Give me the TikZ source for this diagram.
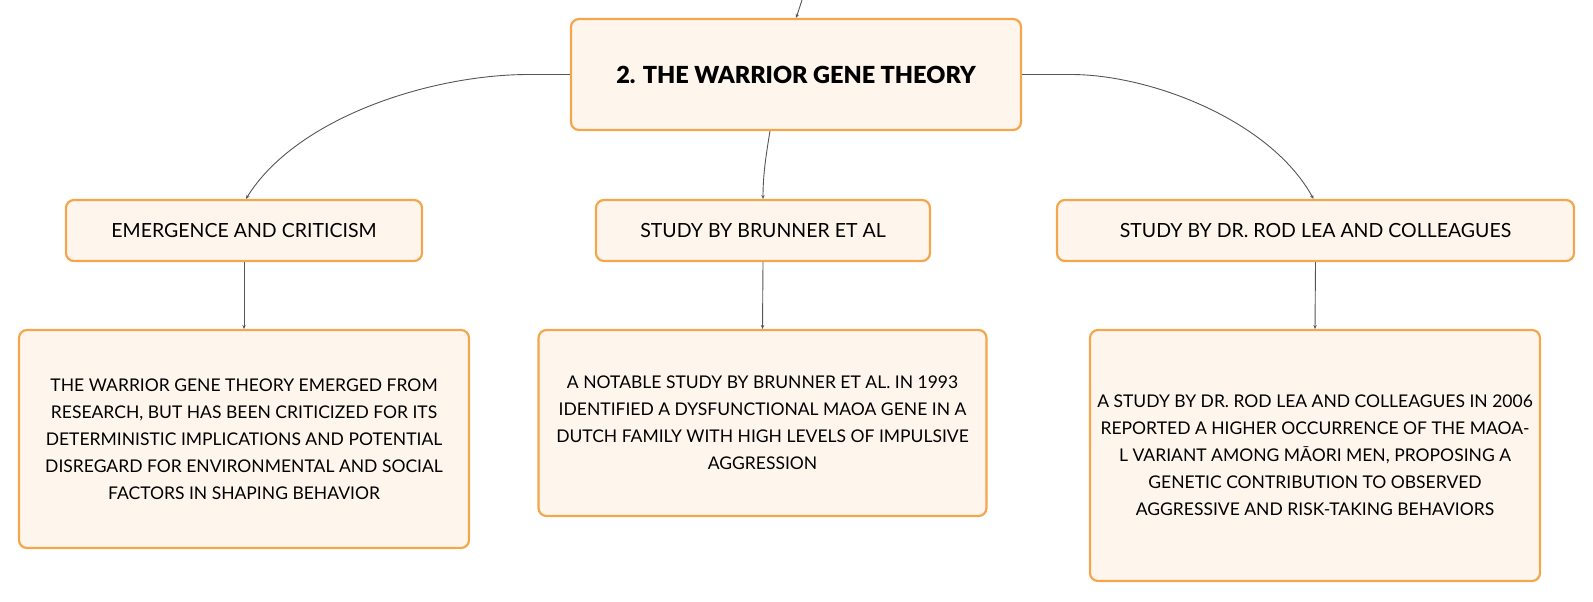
\documentclass[tikz,border=0pt]{standalone}
\usepackage{fontspec}
\setmainfont{Lato}
\newfontfamily\titlefont{Lato Black}
\usetikzlibrary{arrows.meta}
\definecolor{boxfill}{HTML}{FEF5EC}
\definecolor{boxline}{HTML}{F4A64C}
\definecolor{linkc}{HTML}{555555}
\tikzset{
 card/.style={draw=boxline, fill=boxfill, line width=2.2pt, rounded corners=8pt, inner sep=0pt, align=center, font=\fontsize{17.5}{27}\selectfont},
 headcard/.style={card, font=\fontsize{19.5}{24}\selectfont},
 titlecard/.style={card, font=\titlefont\fontsize{23.5}{28}\selectfont},
 link/.style={draw=linkc, line width=0.9pt, -{Stealth[length=4pt,width=3.5pt]}},
}
\begin{document}
\begin{tikzpicture}[x=1pt,y=-1pt]
\useasboundingbox (0,0) rectangle (1593,602);
\node[titlecard, minimum width=450pt, minimum height=111pt] (root) at (796,74.5) {2. THE WARRIOR GENE THEORY};
\node[headcard, minimum width=356pt, minimum height=61pt] (ha) at (244,230.5) {EMERGENCE AND CRITICISM};
\node[headcard, minimum width=334pt, minimum height=61pt] (hb) at (763,230.5) {STUDY BY BRUNNER ET AL};
\node[headcard, minimum width=517pt, minimum height=61pt] (hc) at (1315.5,230.5) {STUDY BY DR. ROD LEA AND COLLEAGUES};
\node[card, minimum width=450pt, minimum height=218pt] (da) at (244,439) {THE WARRIOR GENE THEORY EMERGED FROM\\RESEARCH, BUT HAS BEEN CRITICIZED FOR ITS\\DETERMINISTIC IMPLICATIONS AND POTENTIAL\\DISREGARD FOR ENVIRONMENTAL AND SOCIAL\\FACTORS IN SHAPING BEHAVIOR};
\node[card, minimum width=448pt, minimum height=186pt] (db) at (762.5,423) {A NOTABLE STUDY BY BRUNNER ET AL. IN 1993\\IDENTIFIED A DYSFUNCTIONAL MAOA GENE IN A\\DUTCH FAMILY WITH HIGH LEVELS OF IMPULSIVE\\AGGRESSION};
\node[card, minimum width=450pt, minimum height=251pt] (dc) at (1315,455.5) {A STUDY BY DR. ROD LEA AND COLLEAGUES IN 2006\\REPORTED A HIGHER OCCURRENCE OF THE MAOA-\\L VARIANT AMONG MĀORI MEN, PROPOSING A\\GENETIC CONTRIBUTION TO OBSERVED\\AGGRESSIVE AND RISK-TAKING BEHAVIORS};
\coordinate (topin) at (802,0);
\draw[link] (topin) .. controls (800,8) .. (root.north);
\draw[link] (root.west) -- ++(-41,0) .. controls (430,74.5) and (296,118) .. ([xshift=2pt]ha.north);
\draw[link] (root.east) -- ++(49,0) .. controls (1150,74.5) and (1270,120) .. ([xshift=-2pt]hc.north);
\draw[link] ([xshift=-26pt]root.south) .. controls (766,155) and (763,175) .. (hb.north);
\draw[link] (ha.south) -- (da.north);
\draw[link] (hb.south) -- (db.north);
\draw[link] (hc.south) -- (dc.north);
\end{tikzpicture}
\end{document}
